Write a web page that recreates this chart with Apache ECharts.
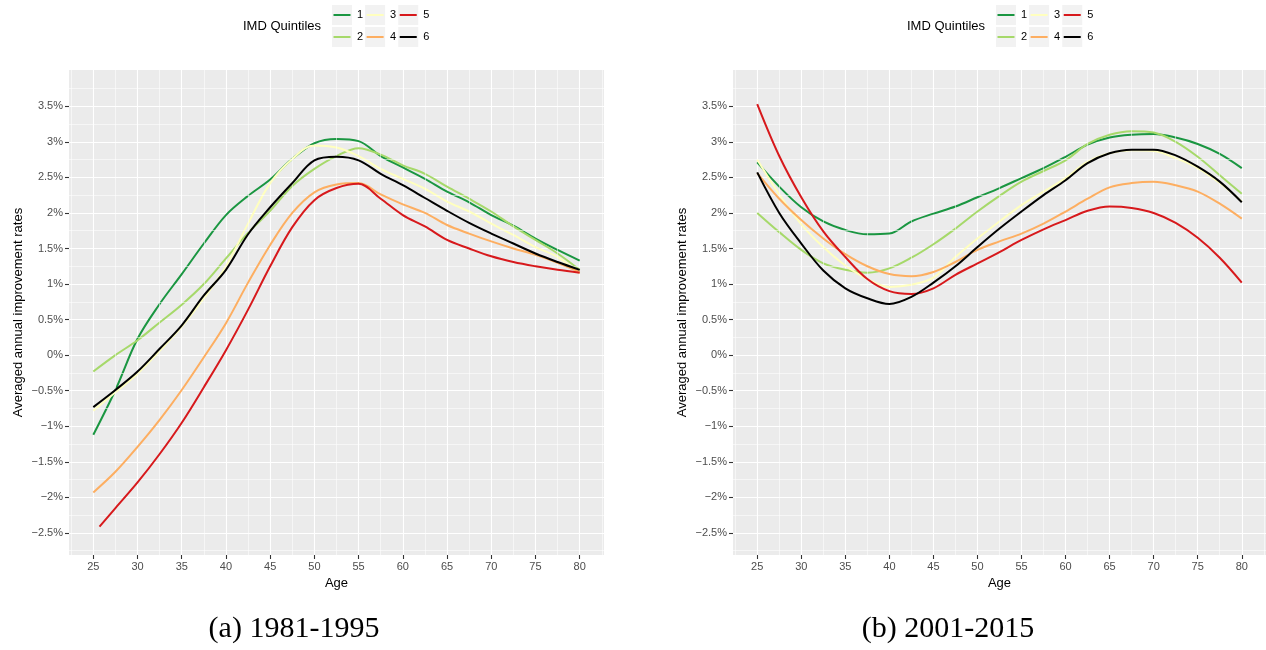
<!DOCTYPE html>
<html>
<head>
<meta charset="utf-8">
<script src="https://cdn.jsdelivr.net/npm/echarts@6/dist/echarts.min.js"></script>
<style>
  html, body { margin: 0; padding: 0; background: #ffffff; }
  #chart { width: 1266px; height: 650px; }
</style>
</head>
<body>
<div id="chart"></div>
<script>
// Ages at which the smoothed improvement rates are given
const ages = [25, 27.5, 30, 32.5, 35, 37.5, 40, 42.5, 45, 47.5, 50, 52.5, 55, 57.5, 60, 62.5, 65, 67.5, 70, 72.5, 75, 77.5, 80];
// quintile 5 in 1981-1995 starts a little after age 25
const agesA5 = [25.7, 27.5, 30, 32.5, 35, 37.5, 40, 42.5, 45, 47.5, 50, 52.5, 55, 57.5, 60, 62.5, 65, 67.5, 70, 72.5, 75, 77.5, 80];

// (a) 1981-1995, averaged annual improvement rates in %
const a1 = [-1.12, -0.49, 0.23, 0.72, 1.14, 1.57, 1.97, 2.24, 2.47, 2.76, 2.98, 3.04, 3.01, 2.80, 2.64, 2.48, 2.30, 2.15, 1.97, 1.82, 1.64, 1.48, 1.33];
const a2 = [-0.23, 0.00, 0.21, 0.46, 0.71, 1.00, 1.36, 1.72, 2.03, 2.38, 2.62, 2.80, 2.91, 2.82, 2.67, 2.55, 2.37, 2.20, 2.02, 1.81, 1.62, 1.43, 1.20];
const a3 = [-0.78, -0.52, -0.26, 0.06, 0.40, 0.80, 1.25, 1.85, 2.42, 2.76, 2.95, 2.92, 2.80, 2.62, 2.48, 2.34, 2.16, 2.02, 1.85, 1.69, 1.52, 1.38, 1.15];
const a4 = [-1.93, -1.64, -1.29, -0.91, -0.49, -0.03, 0.45, 1.02, 1.55, 2.00, 2.29, 2.40, 2.42, 2.26, 2.12, 2.00, 1.83, 1.71, 1.60, 1.50, 1.41, 1.30, 1.17];
const a5 = [-2.41, -2.15, -1.79, -1.39, -0.95, -0.45, 0.07, 0.64, 1.25, 1.80, 2.18, 2.35, 2.41, 2.20, 1.97, 1.81, 1.62, 1.50, 1.39, 1.31, 1.25, 1.20, 1.16];
const a6 = [-0.73, -0.49, -0.23, 0.09, 0.42, 0.84, 1.20, 1.70, 2.08, 2.42, 2.74, 2.79, 2.74, 2.55, 2.39, 2.21, 2.03, 1.86, 1.71, 1.57, 1.43, 1.31, 1.20];

// (b) 2001-2015
const b1 = [2.71, 2.37, 2.08, 1.88, 1.76, 1.70, 1.71, 1.88, 1.99, 2.09, 2.22, 2.35, 2.49, 2.63, 2.79, 2.96, 3.06, 3.10, 3.11, 3.06, 2.97, 2.83, 2.63];
const b2 = [2.00, 1.73, 1.48, 1.29, 1.20, 1.16, 1.22, 1.37, 1.56, 1.78, 2.02, 2.24, 2.44, 2.59, 2.74, 2.97, 3.10, 3.15, 3.13, 3.00, 2.79, 2.53, 2.27];
const b3 = [2.75, 2.26, 1.84, 1.52, 1.26, 1.07, 0.96, 0.99, 1.09, 1.38, 1.64, 1.88, 2.11, 2.30, 2.49, 2.72, 2.84, 2.88, 2.87, 2.77, 2.63, 2.42, 2.16];
const b4 = [2.56, 2.20, 1.90, 1.64, 1.42, 1.25, 1.14, 1.11, 1.17, 1.31, 1.48, 1.60, 1.71, 1.85, 2.02, 2.20, 2.36, 2.42, 2.44, 2.39, 2.30, 2.13, 1.92];
const b5 = [3.53, 2.80, 2.22, 1.74, 1.38, 1.07, 0.90, 0.86, 0.94, 1.13, 1.29, 1.45, 1.62, 1.77, 1.90, 2.03, 2.09, 2.07, 2.00, 1.86, 1.65, 1.37, 1.02];
const b6 = [2.57, 2.00, 1.57, 1.19, 0.94, 0.80, 0.72, 0.82, 1.02, 1.25, 1.52, 1.78, 2.02, 2.25, 2.46, 2.70, 2.84, 2.89, 2.89, 2.81, 2.65, 2.44, 2.15];

const quintiles = ['1', '2', '3', '4', '5', '6'];
const quintileColors = ['#1A9641', '#A6D96A', '#FFFFBF', '#FDAE61', '#D7191C', '#000000'];

const xTicks = [25, 30, 35, 40, 45, 50, 55, 60, 65, 70, 75, 80];
const yTicks = [-2.5, -2, -1.5, -1, -0.5, 0, 0.5, 1, 1.5, 2, 2.5, 3, 3.5];

const captions = ['(a) 1981-1995', '(b) 2001-2015'];
const legendTitle = 'IMD Quintiles';
const xName = 'Age';
const yName = 'Averaged annual improvement rates';

// ---------------------------------------------------------------
const panels = [
  { ages: [ages, ages, ages, ages, agesA5, ages], values: [a1, a2, a3, a4, a5, a6] },
  { ages: [ages, ages, ages, ages, ages, ages], values: [b1, b2, b3, b4, b5, b6] }
];

// minor grid lines sit half way between major ticks (and half a step outside)
const halfStep = (t) => (t[1] - t[0]) / 2;
const xMinor = [xTicks[0] - halfStep(xTicks)].concat(xTicks.map(v => v + halfStep(xTicks)));
const yMinor = [yTicks[0] - halfStep(yTicks)].concat(yTicks.map(v => v + halfStep(yTicks)));

const pctLabel = (v) => (v < 0 ? '\u2212' : '') + Math.abs(v) + '%';

const FONT = 'Liberation Sans';
const gridBox = [
  { left: 69, top: 70, width: 535, height: 485 },
  { left: 733, top: 70, width: 533, height: 485 }
];

const grids = gridBox.map(g => Object.assign({
  show: true, backgroundColor: '#EBEBEB', borderWidth: 0, containLabel: false
}, g));

const xAxes = gridBox.map((g, i) => ({
  type: 'value', gridIndex: i, min: 22.25, max: 82.75, position: 'bottom',
  name: xName, nameLocation: 'middle', nameGap: 22,
  nameTextStyle: { color: '#000000', fontSize: 13, fontFamily: FONT },
  axisLine: { show: false, onZero: false },
  axisTick: { show: true, customValues: xTicks, length: 4, lineStyle: { color: '#333333', width: 1.1 } },
  axisLabel: { customValues: xTicks, color: '#4D4D4D', fontSize: 11, fontFamily: FONT, margin: 6 },
  splitLine: { show: true, lineStyle: { color: '#FFFFFF', width: 1.1 } }
}));

const yAxes = gridBox.map((g, i) => ({
  type: 'value', gridIndex: i, min: -2.81, max: 4.01, position: 'left',
  name: yName, nameLocation: 'middle', nameGap: 44, nameRotate: 90,
  nameTextStyle: { color: '#000000', fontSize: 13, fontFamily: FONT },
  axisLine: { show: false, onZero: false },
  axisTick: { show: true, customValues: yTicks, length: 4, lineStyle: { color: '#333333', width: 1.1 } },
  axisLabel: { customValues: yTicks, color: '#4D4D4D', fontSize: 11, fontFamily: FONT, margin: 6, formatter: pctLabel },
  splitLine: { show: true, lineStyle: { color: '#FFFFFF', width: 1.1 } }
}));

const series = [];
panels.forEach((p, gi) => {
  // minor grid
  series.push({
    type: 'line', xAxisIndex: gi, yAxisIndex: gi, data: [], silent: true, z: 1,
    markLine: {
      silent: true, symbol: 'none', animation: false,
      label: { show: false },
      lineStyle: { color: '#FFFFFF', width: 0.55, type: 'solid' },
      data: xMinor.map(v => ({ xAxis: v })).concat(yMinor.map(v => ({ yAxis: v })))
    }
  });
  quintiles.forEach((q, k) => {
    series.push({
      name: q, type: 'line', xAxisIndex: gi, yAxisIndex: gi, z: 2 + k,
      data: p.ages[k].map((a, j) => [a, p.values[k][j]]),
      smooth: 0.35, symbol: 'none', showSymbol: false,
      itemStyle: { color: quintileColors[k] },
      lineStyle: { color: quintileColors[k], width: 2 },
      emphasis: { disabled: true }
    });
  });
});

const legendOrder = ['1', '3', '5', '2', '4', '6'];
const legendLeft = [332, 996];
const legends = [];
legendLeft.forEach(lx => {
  // grey key backgrounds
  legends.push({
    left: lx, top: 5, width: 100, padding: 0, itemGap: 2, orient: 'horizontal',
    itemWidth: 20, itemHeight: 20, icon: 'rect', selectedMode: false, z: 4,
    data: legendOrder,
    itemStyle: { color: '#F2F2F2', borderWidth: 0 },
    textStyle: { color: 'rgba(0,0,0,0)', fontSize: 11, fontFamily: FONT }
  });
  // coloured keys and labels
  legends.push({
    left: lx, top: 5, width: 100, padding: 0, itemGap: 2, orient: 'horizontal',
    itemWidth: 20, itemHeight: 20, selectedMode: false, z: 5,
    icon: 'path://M0,0 M20,20 M1.5,9 L18.5,9 L18.5,11 L1.5,11 Z',
    data: legendOrder,
    itemStyle: { borderWidth: 0 },
    textStyle: { color: '#000000', fontSize: 11, fontFamily: FONT }
  });
});

const titles = [
  { text: legendTitle, left: 243, top: 20, padding: 0,
    textStyle: { fontSize: 13, fontWeight: 'normal', color: '#000000', fontFamily: FONT } },
  { text: legendTitle, left: 907, top: 20, padding: 0,
    textStyle: { fontSize: 13, fontWeight: 'normal', color: '#000000', fontFamily: FONT } },
  { text: captions[0], left: 294, top: 614, padding: 0, textAlign: 'center',
    textStyle: { fontSize: 30, fontWeight: 'normal', color: '#000000', fontFamily: 'Liberation Serif' } },
  { text: captions[1], left: 948, top: 614, padding: 0, textAlign: 'center',
    textStyle: { fontSize: 30, fontWeight: 'normal', color: '#000000', fontFamily: 'Liberation Serif' } }
];

const chart = echarts.init(document.getElementById('chart'), null, { renderer: 'canvas' });
chart.setOption({
  animation: false,
  backgroundColor: '#FFFFFF',
  title: titles,
  legend: legends,
  grid: grids,
  xAxis: xAxes,
  yAxis: yAxes,
  series: series
});
</script>
</body>
</html>
